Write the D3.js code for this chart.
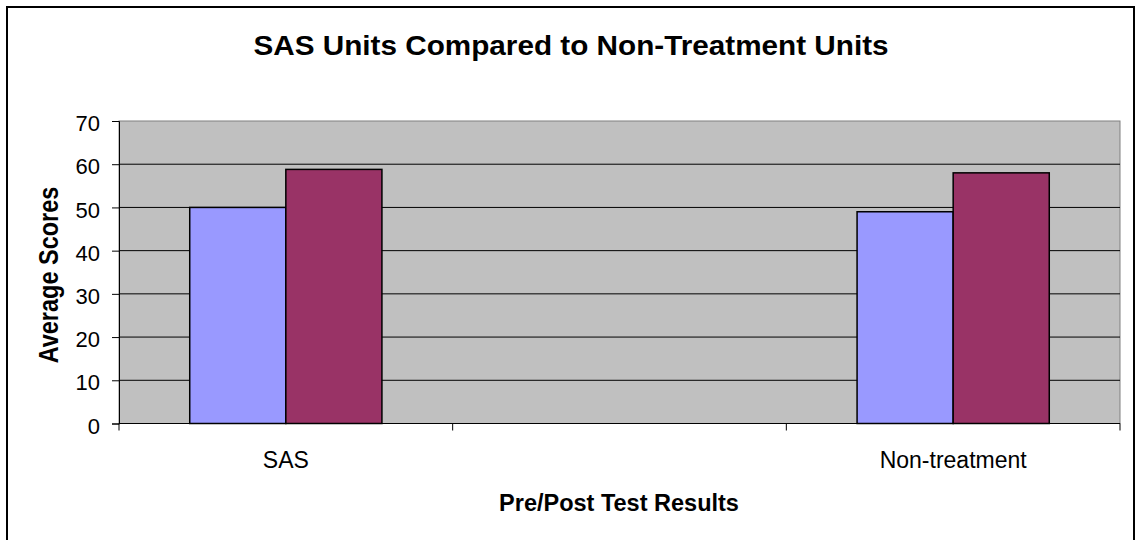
<!DOCTYPE html>
<html>
<head>
<meta charset="utf-8">
<script src="https://cdn.jsdelivr.net/npm/d3@7"></script>
<style>
  html, body { margin: 0; padding: 0; background: #fff; }
  svg { display: block; font-family: Arial, "Liberation Sans", sans-serif; }
</style>
</head>
<body>
<svg id="chart" width="1139" height="540"></svg>
<script>
// Average pre/post test scores per unit group
const categories = ["SAS", "", "Non-treatment"];
const seriesNames = ["Pre-test", "Post-test"];
const preScores = [50, null, 49];
const postScores = [58.8, null, 58];
const yTicks = [0, 10, 20, 30, 40, 50, 60, 70];
const seriesColors = ["#9999FF", "#993366"];

const svg = d3.select("#chart");
const W = 1139, H = 540;
const plot = { left: 119, right: 1120, top: 121, bottom: 423.5 };

// outer frame
svg.append("rect")
  .attr("x", 7).attr("y", 7)
  .attr("width", 1127).attr("height", 545)
  .attr("fill", "#fff").attr("stroke", "#000").attr("stroke-width", 2);

const x0 = d3.scaleBand().domain(d3.range(categories.length))
  .range([plot.left, plot.right]).paddingInner(0).paddingOuter(0);
const groupW = x0.bandwidth() * 0.576;
const x1 = d3.scaleBand().domain(d3.range(seriesNames.length))
  .range([0, groupW]).padding(0);
const y = d3.scaleLinear().domain([0, 70]).range([plot.bottom, plot.top]);

// plot area background
svg.append("rect")
  .attr("x", plot.left).attr("y", plot.top)
  .attr("width", plot.right - plot.left).attr("height", plot.bottom - plot.top)
  .attr("fill", "#C0C0C0").attr("stroke", "#808080").attr("stroke-width", 1);

// horizontal gridlines
svg.append("g").selectAll("line")
  .data(yTicks.filter(t => t > 0 && t < 70))
  .join("line")
  .attr("x1", plot.left).attr("x2", plot.right)
  .attr("y1", d => y(d)).attr("y2", d => y(d))
  .attr("stroke", "#000").attr("stroke-width", 1);

// bars
const rows = categories.map((c, i) => ({ i, values: [preScores[i], postScores[i]] }));
const groups = svg.append("g").selectAll("g")
  .data(rows)
  .join("g")
  .attr("transform", d => `translate(${x0(d.i) + (x0.bandwidth() - groupW) / 2},0)`);
groups.selectAll("rect")
  .data(d => d.values.map((v, s) => ({ v, s })).filter(e => e.v != null))
  .join("rect")
  .attr("x", d => x1(d.s))
  .attr("width", x1.bandwidth())
  .attr("y", d => y(d.v))
  .attr("height", d => y(0) - y(d.v))
  .attr("fill", d => seriesColors[d.s])
  .attr("stroke", "#000").attr("stroke-width", 1.5);

// y axis
const yAxis = svg.append("g")
  .attr("transform", `translate(${plot.left},0)`)
  .call(d3.axisLeft(y).tickValues(yTicks).tickFormat(d3.format("d"))
    .tickSize(7).tickPadding(12));
yAxis.select(".domain").attr("stroke", "#000");
yAxis.selectAll(".tick line").attr("stroke", "#000");
yAxis.selectAll("text")
  .attr("font-size", 22).attr("fill", "#000")
  .attr("font-family", "Arial, 'Liberation Sans', sans-serif")
  .attr("dy", "0.44em");

// x axis: ticks sit on category boundaries
const boundaries = d3.range(categories.length + 1)
  .map(i => i < categories.length ? x0(i) : plot.right);
svg.append("line")
  .attr("x1", plot.left).attr("x2", plot.right)
  .attr("y1", plot.bottom).attr("y2", plot.bottom)
  .attr("stroke", "#000");
svg.append("g").selectAll("line")
  .data(boundaries)
  .join("line")
  .attr("x1", d => d).attr("x2", d => d)
  .attr("y1", plot.bottom).attr("y2", plot.bottom + 7)
  .attr("stroke", "#000");
svg.append("g").selectAll("text")
  .data(categories)
  .join("text")
  .attr("x", (d, i) => x0(i) + x0.bandwidth() / 2)
  .attr("y", 468)
  .attr("text-anchor", "middle")
  .attr("font-size", 23)
  .attr("fill", "#000")
  .text(d => d);

// titles
svg.append("text")
  .attr("transform", `translate(571,55) scale(1.1,1)`)
  .attr("text-anchor", "middle")
  .attr("font-size", 27).attr("font-weight", "bold")
  .text("SAS Units Compared to Non-Treatment Units");

svg.append("text")
  .attr("transform", `translate(58,275) scale(1.15,1) rotate(-90)`)
  .attr("text-anchor", "middle")
  .attr("font-size", 23.5).attr("font-weight", "bold")
  .text("Average Scores");

svg.append("text")
  .attr("x", 619).attr("y", 510.5)
  .attr("text-anchor", "middle")
  .attr("font-size", 23.5).attr("font-weight", "bold")
  .text("Pre/Post Test Results");
</script>
</body>
</html>
